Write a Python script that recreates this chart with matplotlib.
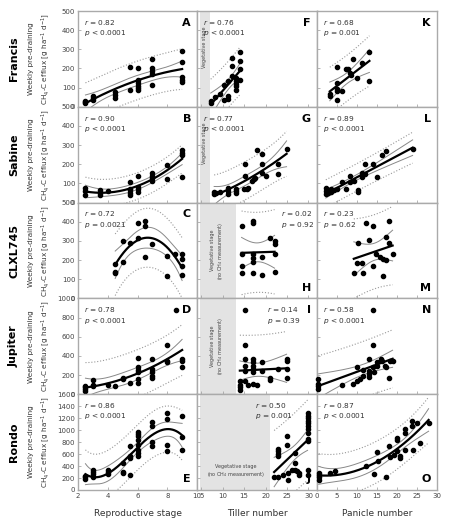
import numpy as np
import matplotlib
matplotlib.use("Agg")
from matplotlib import pyplot as plt

# ---- data ----
cultivars = ["Francis", "Sabine", "CLXL745", "Jupiter", "Rondo"]
col_xlabels = ["Reproductive stage", "Tiller number", "Panicle number"]

# column 1: reproductive stage
A_x = [2.5,2.5,2.5, 3,3,3, 4.5,4.5,4.5, 5.5,5.5, 6,6,6,6,6,6, 7,7,7,7,7, 9,9,9,9,9]
A_y = [30,20,25, 57,45,35, 75,60,45, 207,89, 200,140,125,110,100,90, 252,200,186,172,113, 289,236,154,142,128]
B_x = [2.5,2.5,2.5, 3.5,3.5,3.5, 4, 5.5,5.5,5.5,5.5,5.5, 6,6,6,6, 7,7,7,7, 8,8, 9,9,9,9]
B_y = [78,58,38, 64,52,40, 60, 107,72,66,52,40, 138,81,69,57, 155,138,126,112, 198,121, 272,259,247,136]
C_x = [4.5,4.5,4.5, 5,5, 5.5, 6,6, 6.5,6.5,6.5, 7, 8,8, 8.5, 9,9,9,9]
C_y = [181,140,133, 302,188, 289, 391,316, 403,377,216, 286, 219,117, 233, 232,207,167,123]
D_x = [2.5,2.5,2.5,2.5, 3,3,3, 4, 4.5, 5,5, 5.5, 6,6,6,6,6,6, 7,7,7,7,7, 8,8,8, 8.6, 9,9,9]
D_y = [88,70,53,35, 147,95,88, 95, 88, 168,154, 112, 375,281,256,228,158,116, 368,263,228,193,165, 509,351,333, 877, 368,347,288]
E_x = [2.5,2.5,2.5, 3,3,3,3, 4,4,4, 5,5,5, 5.5,5.5,5.5,5.5, 6,6,6,6,6,6,6,6, 7,7,7,7, 8,8,8,8, 9,9,9]
E_y = [230,210,190, 340,300,260,220, 336,297,269, 448,300,280, 728,560,532,252,
       963,935,907,829,756,661,616,571, 1131,1075,795,728, 1288,1193,756,644, 1243,885,672]

# column 2: tiller number
F_x = [7.2,7.2, 8.2, 9.4, 10.4,10.4, 11.3,11.3,11.3, 12.1,12.1,12.1, 13,13,13,13,13, 14,14,14,14]
F_y = [21,30, 53, 67, 35,113, 39,57,133, 160,213,254, 150,133,120,106,89, 287,239,195,138]
G_x = [8,8,8.5, 9.4, 11.3,11.3,11.3, 13,13,13, 15.2,15.2,15,15.6,16, 16.8,17.2,17.5, 18.1,
       19.1,19.1,19.1, 20, 22.8,22.8, 24.9]
G_y = [56,44,50, 56, 78,61,44, 73,61,49, 200,139,70,73,78, 113,122,131, 274, 253,200,157, 139, 200,151, 279]
H_x = [14.4,14.4,14.4,14.4, 17,17,17,17,17,17, 19.1,19.1, 21, 22.1,22.1,22.1,22.1]
H_y = [377,233,167,135, 403,395,233,211,188,135, 216,123, 316, 298,284,233,140]
I_x = [15.2,15.2,15.2,15.2,15.2,15.2, 14,14,14,14, 16,17,17.9, 17,17,17,17,17, 19.1,19.1, 21,21, 22.9,
       24.9,24.9,24.9,24.9]
I_y = [877,509,368,298,246,140, 140,95,70,46, 95,105,98, 368,333,298,263,235, 333,246, 165,147, 263,
       368,350,263,165]
J_x = [22,23,24.1,25.3,25.3,26.1, 23,23,23,23, 24.9,24.9, 26.9,27.3,27.9,27.9, 26.9,26.9,
       29.8,29.8,29.8,29.8,29.8,29.8,29.8,29.8,29.8,29.8, 29.8,29.8]
J_y = [225,225,253,292,169,337, 685,646,607,562, 899,758, 326,309,292,247, 449,618,
       1292,1236,1197,1152,1112,1067,1011,955,854,815, 337,253]

# column 3: panicle number
K_x = [3.2,3.2, 5.1,5.1,5.1,5.1,5.1, 6.2, 7.2,7.8, 8.2,8.5, 9.1, 10.1, 11.2, 13.1,13.1]
K_y = [66,57, 208,124,94,83,35, 80, 195,195, 177,165, 248, 150, 230, 284,133]
L_x = [2.2,2.2,2.2, 2.8,2.8, 3.5,3.5, 4.3, 4.9, 6.2, 7.2, 8.2,8.2, 9.2, 10.2,10.2, 11.2,11.2,
       12.1,12.1, 14.1, 15.1, 16.2, 17.2, 23.9]
L_y = [78,61,47, 64,52, 70,57, 64, 70, 110, 70, 105,139, 113, 64,57, 134,152, 200,148, 200, 134, 249, 270, 279]
M_x = [9.2, 10.1,11.2, 10.3, 12.2, 13.1, 14.1,14.1, 14.8,15.8,16.6,17.2, 16.4, 17.2, 18.1,18.1, 18.9, 11.4]
M_y = [135, 184,184, 289, 391, 303, 377,170, 233,216,205,202, 118, 319, 403,289, 233, 135]
N_x = [0.3,0.3,0.3,0.3, 6.2, 9.1, 10.1, 10.1,10.8, 11.4,11.4, 13.1,13.1,13.1,13.1, 13.9,13.9,
       14.1,14.2, 14.9,14.9, 15.9, 16.2, 17,17.2, 18.1, 18.2,18.9]
N_y = [158,105,81,53, 95, 105, 281, 140,158, 193,253, 368,246,211,175, 509,877,
       281,228, 333,298, 368, 351, 298,281, 165, 351,351]
O_x = [0.4,0.4,0.4,0.4, 3.3, 4.6, 12.2, 14.2, 15.0, 15.2, 17.2, 17.9, 18.2, 19.2, 20,20,20,
       20.8,20.8, 22.1,22.1,22.1, 23.8,23.8, 24, 25, 25.8, 27.9]
O_y = [292,253,213,169, 292, 309, 393, 270, 629, 478, 225, 730, 550, 590, 871,843,646,
       573,534, 1011,955,674, 1152,1067, 674, 1124, 786, 1112]

panels = [
    # x, y, letter, r, p, fit degree
    [A_x, A_y, "A", "0.82", "< 0.0001", 2],
    [F_x, F_y, "F", "0.76", "< 0.0001", 1],
    [K_x, K_y, "K", "0.68", "= 0.001", 1],
    [B_x, B_y, "B", "0.90", "< 0.0001", 2],
    [G_x, G_y, "G", "0.77", "< 0.0001", 2],
    [L_x, L_y, "L", "0.89", "< 0.0001", 1],
    [C_x, C_y, "C", "0.72", "= 0.0021", 2],
    [H_x, H_y, "H", "0.02", "= 0.92", 1],
    [M_x, M_y, "M", "0.23", "= 0.62", 1],
    [D_x, D_y, "D", "0.78", "< 0.0001", 2],
    [I_x, I_y, "I", "0.14", "= 0.39", 1],
    [N_x, N_y, "N", "0.58", "< 0.0001", 1],
    [E_x, E_y, "E", "0.86", "< 0.0001", 3],
    [J_x, J_y, "J", "0.50", "= 0.001", 1],
    [O_x, O_y, "O", "0.87", "< 0.0001", 2],
]
letter_bottom = ["E", "H", "J", "M", "O"]
r_xpos = {"H": 0.70, "I": 0.58, "J": 0.48}
row_ymax = [500, 500, 500, 1000, 1600]
veg_end = [7, 7, 13, 13, 21]

# ---- layout (pixels) ----
W, H = 450, 526
col_left = [78, 197, 317]
col_w = [119, 120, 120]
row_top = 11
row_h = 95.8
col_xlim = [(2, 10), (4, 32), (0, 30)]
col_xticks = [np.arange(2, 11, 2), np.arange(5, 31, 5), np.arange(0, 31, 5)]

fig = plt.figure(figsize=(4.5, 5.26), dpi=100)


def tval(df):
    return 1.96 + 2.4 / df + 3.0 / df ** 2


def fit_bands(x, y, deg):
    x = np.asarray(x, float)
    y = np.asarray(y, float)
    X = np.vander(x, deg + 1)
    beta, *_ = np.linalg.lstsq(X, y, rcond=None)
    df = len(x) - (deg + 1)
    s2 = np.sum((y - X @ beta) ** 2) / df
    cov = np.linalg.inv(X.T @ X)
    xs = np.linspace(x.min(), x.max(), 200)
    Xs = np.vander(xs, deg + 1)
    yh = Xs @ beta
    lev = np.einsum("ij,jk,ik->i", Xs, cov, Xs)
    t = tval(df)
    ci = t * np.sqrt(s2 * lev)
    pi = t * np.sqrt(s2 * (1 + lev))
    return xs, yh, ci, pi


for k, (px, py, letter, r, p, deg) in enumerate(panels):
    row, col = divmod(k, 3)
    l = col_left[col]
    t = row_top + row * row_h
    ax = fig.add_axes([l / W, 1 - (t + row_h) / H, col_w[col] / W, row_h / H])
    ax.set_xlim(*col_xlim[col])
    ax.set_ylim(0, row_ymax[row])
    ax.set_xticks(col_xticks[col])
    ax.set_yticks(np.arange(0, row_ymax[row] + 1, 100 if row_ymax[row] == 500 else 200))
    ax.tick_params(direction="in", length=2, width=0.5, colors="#999999",
                   labelsize=5, labelcolor="#444444", pad=2)
    if col != 0:
        ax.set_yticklabels([])
    if row != 4:
        ax.set_xticklabels([])
    for s in ax.spines.values():
        s.set_color("#aaaaaa")
        s.set_linewidth(1.0)

    if col == 1:
        ax.axvspan(4.6, veg_end[row], color="#e3e3e3", lw=0, zorder=0)
        if row < 2:
            ax.text((4.6 + veg_end[row]) / 2, row_ymax[row] * 0.62, "Vegetative stage",
                    rotation=90, ha="center", va="center", fontsize=3.5, color="#444444")
        elif row < 4:
            ax.text((4.6 + veg_end[row]) / 2, row_ymax[row] * 0.5,
                    "Vegetative stage\n(no CH$_4$ measurement)",
                    rotation=90, ha="center", va="center", fontsize=3.5, color="#444444")
        else:
            ax.text((4.6 + veg_end[row]) / 2 + 0.2, row_ymax[row] * 0.19,
                    "Vegetative stage\n(no CH$_4$ measurement)",
                    ha="center", va="center", fontsize=3.5, color="#444444")

    xs, yh, ci, pi = fit_bands(px, py, deg)
    ax.plot(xs, yh + pi, ls=":", color="#999999", lw=0.8)
    ax.plot(xs, yh - pi, ls=":", color="#999999", lw=0.8)
    ax.plot(xs, yh + ci, color="#888888", lw=0.7)
    ax.plot(xs, yh - ci, color="#888888", lw=0.7)
    ax.plot(xs, yh, color="black", lw=1.6)
    ax.scatter(px, py, s=9, color="black", zorder=5, clip_on=False)

    rx = r_xpos.get(letter, 0.05)
    ax.text(rx, 0.93, "$r$ = " + r + "\n$p$ " + p, transform=ax.transAxes,
            ha="left", va="top", fontsize=5.3, color="#333333", linespacing=1.2)
    if letter in letter_bottom:
        ax.text(0.95, 0.06, letter, transform=ax.transAxes, ha="right", va="bottom",
                fontsize=8, fontweight="bold")
    else:
        ax.text(0.95, 0.93, letter, transform=ax.transAxes, ha="right", va="top",
                fontsize=8, fontweight="bold")

# row and column labels
for row, name in enumerate(cultivars):
    yc = 1 - (row_top + (row + 0.5) * row_h) / H
    fig.text(14 / W, yc, name, rotation=90, ha="center", va="center",
             fontsize=8, fontweight="bold")
    fig.text(40 / W, yc, "Weekly pre-draining\nCH$_4$-C efflux [g ha$^{-1}$ d$^{-1}$]",
             rotation=90, ha="center", va="center", fontsize=5.2, color="#333333",
             linespacing=1.5)

for col, lab in enumerate(col_xlabels):
    xc = (col_left[col] + col_w[col] / 2) / W
    fig.text(xc, 1 - 513 / H, lab, ha="center", va="center", fontsize=6.5, color="#333333")

fig.savefig("out.png", dpi=100)
